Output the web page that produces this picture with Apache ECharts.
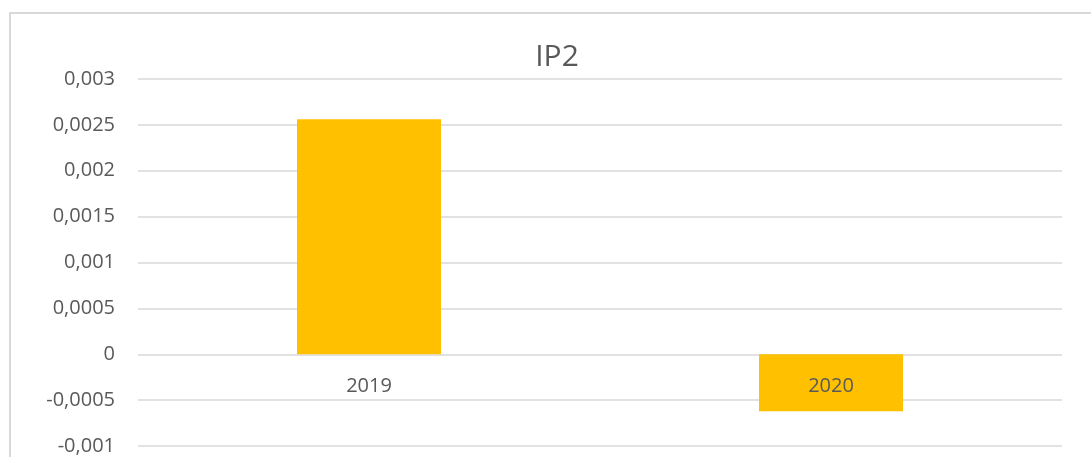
<!DOCTYPE html>
<html lang="en">
<head>
  <meta charset="UTF-8">
  <title>IP2</title>
  <script src="https://cdn.jsdelivr.net/npm/echarts@6/dist/echarts.min.js"></script>
  <style>
    body {
      margin: 0;
      background: #fff;
    }
    #chart {
      width: 1091px;
      height: 457px;
    }
  </style>
</head>
<body>
  <div id="chart"></div>
  <script>
    // values
    const years = ['2019', '2020'];
    const ip2Values = [0.00256, -0.00062];
    const yMin = -0.001;
    const yMax = 0.003;
    const yStep = 0.0005;

    const textColor = '#595959';
    const gridColor = '#d9d9d9';
    const fontFamily = '"Open Sans", "Noto Sans", sans-serif';

    const chart = echarts.init(document.getElementById('chart'));

    chart.setOption({
      animation: false,
      title: {
        text: 'IP2',
        left: 552,
        textAlign: 'center',
        top: 37,
        textStyle: {
          fontFamily: fontFamily,
          fontSize: 30,
          fontWeight: 'normal',
          color: textColor
        }
      },
      // chart area border (only top and left edge are in view)
      graphic: [{
        type: 'rect',
        shape: { x: 10, y: 13, width: 1300, height: 700 },
        style: { fill: 'none', stroke: gridColor, lineWidth: 2 },
        silent: true
      }],
      grid: {
        left: 138,
        right: 29,
        top: 79,
        bottom: 11,
        containLabel: false,
        outerBoundsMode: 'none'
      },
      xAxis: {
        type: 'category',
        data: years,
        z: 10,
        position: 'bottom',
        // move the category axis up to the zero line, as in the original
        offset: -92,
        axisLine: { show: false, onZero: false },
        axisTick: { show: false },
        axisLabel: {
          color: textColor,
          fontFamily: fontFamily,
          fontSize: 20,
          margin: 22
        }
      },
      yAxis: {
        type: 'value',
        min: yMin,
        max: yMax,
        interval: yStep,
        axisLine: { show: false },
        axisTick: { show: false },
        axisLabel: {
          color: textColor,
          fontFamily: fontFamily,
          fontSize: 20,
          margin: 23,
          formatter: function (v) {
            return String(+v.toFixed(4)).replace('.', ',');
          }
        },
        splitLine: {
          lineStyle: { color: gridColor, width: 1.5 }
        }
      },
      series: [{
        name: 'IP2',
        type: 'bar',
        data: ip2Values,
        barWidth: 144,
        itemStyle: { color: '#FFC000' }
      }]
    });
  </script>
</body>
</html>
